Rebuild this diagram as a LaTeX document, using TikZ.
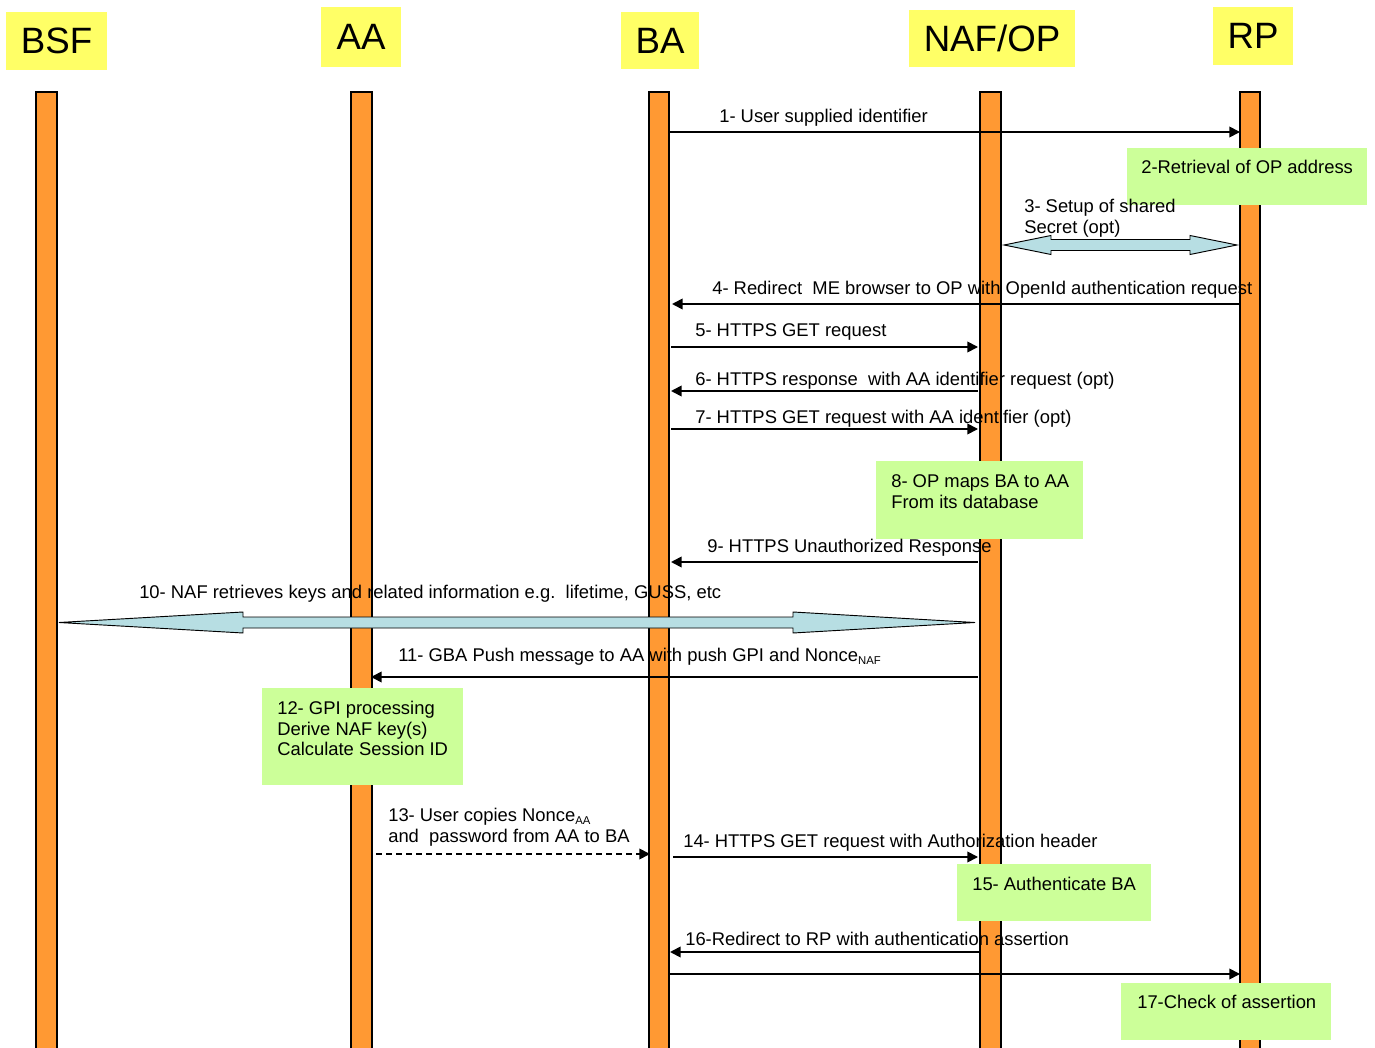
\documentclass[tikz,border=0pt]{standalone}
\usepackage{fontspec}
\setmainfont{Liberation Sans}
\usetikzlibrary{arrows.meta}
\definecolor{lifeorange}{RGB}{255,153,51}
\definecolor{hdryellow}{RGB}{255,255,102}
\definecolor{notegreen}{RGB}{204,255,153}
\definecolor{blockblue}{RGB}{183,222,227}
\newcommand{\subtxt}[1]{\raisebox{-2.2pt}{\fontsize{8.5}{9}\selectfont #1}}
\begin{document}
\begin{tikzpicture}[x=0.75pt,y=-0.75pt,
  lifebar/.style={fill=lifeorange,draw=black,line width=0.8pt},
  hdr/.style={fill=hdryellow,inner sep=0pt,font=\fontsize{27.5}{30}\selectfont},
  notebox/.style={fill=notegreen},
  lbl/.style={anchor=base west,inner sep=0pt,yshift=-0.9pt,font=\fontsize{13.8}{16}\selectfont},
  msg/.style={line width=1.3pt,-{Triangle[length=8pt,width=8pt]}},
  blockarrow/.style={fill=blockblue,draw=black,line width=0.7pt}]
\useasboundingbox (0,0) rectangle (1375,1048);
\fill[white] (0,0) rectangle (1375,1048);

% headers
\node[hdr,minimum width=75.75pt,minimum height=43.5pt] (bsf) at (56.5,41) {BSF};
\node[hdr,minimum width=60pt,minimum height=45pt] (aa) at (361,37) {AA};
\node[hdr,minimum width=58.5pt,minimum height=42.75pt] (ba) at (660,40.5) {BA};
\node[hdr,minimum width=124.5pt,minimum height=42.75pt] (naf) at (992,38.5) {NAF/OP};
\node[hdr,minimum width=60pt,minimum height=43.5pt] (rp) at (1253,36) {RP};

% lifelines
\draw[lifebar] (36,92) rectangle (57,1056);
\draw[lifebar] (351,92) rectangle (372,1056);
\draw[lifebar] (649,92) rectangle (669,1056);
\draw[lifebar] (980,92) rectangle (1001,1056);
\draw[lifebar] (1240,92) rectangle (1260,1056);

% note boxes
\fill[notebox] (1127,148) rectangle (1367,205);
\fill[notebox] (876,461) rectangle (1083,539);
\fill[notebox] (262,688) rectangle (463,785);
\fill[notebox] (957,864) rectangle (1151,921);
\fill[notebox] (1121,983) rectangle (1331,1040);

% block double arrows
\draw[blockarrow] (1004,245) -- (1051,235.5) -- (1051,239.5) -- (1190,239.5) -- (1190,235.5)
  -- (1237,245) -- (1190,254.5) -- (1190,250.5) -- (1051,250.5) -- (1051,254.5) -- cycle;
\draw[blockarrow] (59,622.5) -- (243,612) -- (243,617) -- (793,617) -- (793,612)
  -- (975,622.5) -- (793,633) -- (793,628) -- (243,628) -- (243,633) -- cycle;

% messages
\draw[msg] (669,132) -- (1240,132);
\draw[msg] (1240,304) -- (672,304);
\draw[msg] (671,347) -- (978,347);
\draw[msg] (978,391) -- (671,391);
\draw[msg] (671,429) -- (978,429);
\draw[msg] (978,562) -- (671,562);
\draw[msg] (978,677) -- (371,677);
\draw[msg,dashed,dash pattern=on 4.5pt off 3pt] (376,854) -- (650,854);
\draw[msg] (673,857) -- (978,857);
\draw[msg] (980,952) -- (670,952);
\draw[msg] (669,974) -- (1240,974);

% labels
\node[lbl] (t1) at (719,121) {1- User supplied identifier};
\node[lbl] (t2) at (1141,172) {2-Retrieval of OP address};
\node[lbl] (t3a) at (1024,211) {3- Setup of shared};
\node[lbl] (t3b) at (1024,232) {Secret (opt)};
\node[lbl] (t4) at (712,293) {4- Redirect\ \ ME browser to OP with OpenId authentication request};
\node[lbl] (t5) at (695,335) {5- HTTPS GET request};
\node[lbl] (t6) at (695,384) {6- HTTPS response\ \ with AA identifier request (opt)};
\node[lbl] (t7) at (695,422) {7- HTTPS GET request with AA identifier (opt)};
\node[lbl] (t8a) at (891,486) {8- OP maps BA to AA};
\node[lbl] (t8b) at (891,507) {From its database};
\node[lbl] (t9) at (707,551) {9- HTTPS Unauthorized Response};
\node[lbl] (t10) at (139,597) {10- NAF retrieves keys and related information e.g.\ \ lifetime, GUSS, etc};
\node[lbl] (t11) at (398,660) {11- GBA Push message to AA with push GPI and Nonce\subtxt{NAF}};
\node[lbl] (t12a) at (277,713) {12- GPI processing};
\node[lbl] (t12b) at (277,734) {Derive NAF key(s)};
\node[lbl] (t12c) at (277,754) {Calculate Session ID};
\node[lbl] (t13a) at (388,820) {13- User copies Nonce\subtxt{AA}};
\node[lbl] (t13b) at (388,841) {and\ \ password from AA to BA};
\node[lbl] (t14) at (683,846) {14- HTTPS GET request with Authorization header};
\node[lbl] (t15) at (972,889) {15- Authenticate BA};
\node[lbl] (t16) at (685,944) {16-Redirect to RP with authentication assertion};
\node[lbl] (t17) at (1137,1007) {17-Check of assertion};
\end{tikzpicture}
\end{document}
